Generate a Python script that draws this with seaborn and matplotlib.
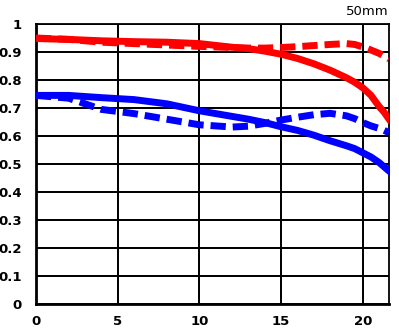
import matplotlib
matplotlib.use("Agg")
import matplotlib.pyplot as plt
import seaborn as sns
import pandas as pd

x_pos = [0, 2, 4, 6, 8, 10, 12, 13, 14, 15, 16, 17, 18, 19, 19.5, 20, 20.5, 21, 21.3, 21.6]
red_solid = [0.948, 0.945, 0.940, 0.937, 0.935, 0.930, 0.917, 0.912, 0.903, 0.892, 0.877, 0.858, 0.835, 0.808, 0.792, 0.772, 0.745, 0.705, 0.685, 0.660]
red_dash = [0.950, 0.945, 0.935, 0.930, 0.925, 0.920, 0.916, 0.914, 0.914, 0.916, 0.919, 0.923, 0.927, 0.930, 0.927, 0.918, 0.907, 0.895, 0.885, 0.875]
blue_solid = [0.745, 0.745, 0.737, 0.730, 0.715, 0.690, 0.670, 0.660, 0.648, 0.633, 0.620, 0.603, 0.583, 0.565, 0.555, 0.540, 0.525, 0.505, 0.490, 0.475]
blue_dash = [0.745, 0.735, 0.695, 0.680, 0.660, 0.640, 0.632, 0.635, 0.645, 0.657, 0.667, 0.676, 0.681, 0.672, 0.662, 0.648, 0.636, 0.627, 0.620, 0.612]

x_ticks = [0, 5, 10, 15, 20]
y_ticks = [0, 0.1, 0.2, 0.3, 0.4, 0.5, 0.6, 0.7, 0.8, 0.9, 1.0]
y_tick_labels = ["0", "0.1", "0.2", "0.3", "0.4", "0.5", "0.6", "0.7", "0.8", "0.9", "1"]

df = pd.DataFrame({
    "x": x_pos * 4,
    "y": red_solid + red_dash + blue_solid + blue_dash,
    "series": ["rs"] * len(x_pos) + ["rd"] * len(x_pos) + ["bs"] * len(x_pos) + ["bd"] * len(x_pos),
})

fig = plt.figure(figsize=(3.99, 3.31), dpi=100, facecolor="white")
ax = fig.add_axes([36/399, 1 - 304/331, (389-36)/399, (304-24)/331])
ax.patch.set_visible(False)

sns.lineplot(data=df, x="x", y="y", hue="series", style="series",
             palette={"rs": "#ff0000", "rd": "#ff0000", "bs": "#0000ff", "bd": "#0000ff"},
             dashes={"rs": "", "rd": (2.2, 1.0), "bs": "", "bd": (2.2, 1.0)},
             linewidth=5, legend=False, errorbar=None, ax=ax, zorder=3)

ax.set_xlim(0, 21.6)
ax.set_ylim(0, 1)
ax.set_xticks(x_ticks)
ax.set_yticks(y_ticks)
ax.set_yticklabels(y_tick_labels)
ax.set_xlabel("")
ax.set_ylabel("")
ax.hlines(y_ticks[1:], 0, 21.6, colors="black", linewidth=1.3, zorder=2.9)
ax.vlines(x_ticks[1:], 0, 1, colors="black", linewidth=1.3, zorder=2.9)
ax.set_axisbelow(False)
ax.grid(True, color="black", linewidth=1.3, zorder=2.9)
for s in ["top", "right", "left", "bottom"]:
    ax.spines[s].set_color("black")
    ax.spines[s].set_linewidth(1.3)
ax.spines["left"].set_linewidth(2)
ax.spines["bottom"].set_linewidth(2)
ax.tick_params(axis="both", length=0, labelsize=9.5)
ax.tick_params(axis="x", pad=8)
ax.tick_params(axis="y", pad=10)
for lbl in ax.get_xticklabels() + ax.get_yticklabels():
    lbl.set_fontweight("bold")
ax.text(1.0, 1.046, "50mm", transform=ax.transAxes, ha="right", va="center", fontsize=9.5, color="black")

fig.savefig("out.png", dpi=100, facecolor="white")
